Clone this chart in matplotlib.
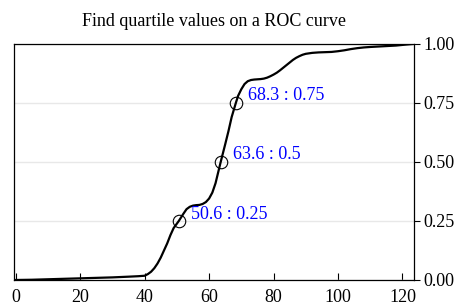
import matplotlib.pyplot as plt

# ROC curve
fpr = [0, 5, 10, 15, 20, 25, 30, 35, 38, 40, 41, 42, 43, 44, 45, 46, 47, 48, 49,
       50.6, 52, 53, 54, 55, 56, 57, 58, 59, 60, 61, 62, 63.6, 65, 66, 67, 68.3,
       69, 70, 71, 72, 73, 74, 75, 76, 77, 78, 79, 80, 81, 82, 83, 84, 85, 86,
       87, 88, 89, 90, 92, 94, 96, 98, 100, 102, 104, 106, 108, 110, 114, 118,
       121, 123.5]
tpr = [0, 0.001, 0.003, 0.005, 0.007, 0.009, 0.011, 0.014, 0.016, 0.018, 0.025,
       0.035, 0.05, 0.07, 0.095, 0.125, 0.155, 0.19, 0.22, 0.25, 0.28, 0.3,
       0.31, 0.315, 0.317, 0.318, 0.322, 0.33, 0.345, 0.37, 0.41, 0.5, 0.575,
       0.63, 0.69, 0.75, 0.78, 0.808, 0.83, 0.842, 0.847, 0.849, 0.85, 0.851,
       0.853, 0.857, 0.863, 0.87, 0.878, 0.888, 0.899, 0.91, 0.921, 0.932,
       0.941, 0.948, 0.954, 0.958, 0.962, 0.964, 0.965, 0.966, 0.969, 0.973,
       0.978, 0.982, 0.985, 0.987, 0.99, 0.993, 0.997, 1.0]

# quartile points
q_x = [50.6, 63.6, 68.3]
q_y = [0.25, 0.5, 0.75]
q_labels = ["50.6 : 0.25", "63.6 : 0.5", "68.3 : 0.75"]

plt.rcParams["font.family"] = ["Liberation Serif", "DejaVu Serif"]

fig = plt.figure(figsize=(4.56, 3.07), dpi=100)
ax = fig.add_axes([0.031, 0.088, 0.877, 0.769])

ax.grid(axis="y", color="#e8e8e8", linewidth=1)
ax.set_axisbelow(True)
ax.plot(fpr, tpr, color="black", linewidth=1.6)
ax.plot(q_x, q_y, "o", markerfacecolor="none", markeredgecolor="black",
        markersize=9, markeredgewidth=0.8)
for x, y, lab in zip(q_x, q_y, q_labels):
    ax.annotate(lab, (x, y), xytext=(8.5, 5), textcoords="offset points",
                va="center", ha="left", color="#0000ff", fontsize=13)

ax.set_xlim(-0.5, 123.6)
ax.set_ylim(0, 1)
ax.set_xticks([0, 20, 40, 60, 80, 100, 120])
ax.set_yticks([0, 0.25, 0.5, 0.75, 1.0])
ax.set_yticklabels(["0.00", "0.25", "0.50", "0.75", "1.00"])
ax.yaxis.tick_right()
ax.tick_params(axis="y", direction="out", length=4, labelsize=13, width=0.8, pad=3)
ax.tick_params(axis="x", direction="in", length=5, labelsize=13, width=0.8, pad=6.5)
for s in ax.spines.values():
    s.set_linewidth(0.9)

ax.set_title("Find quartile values on a ROC curve", fontsize=13, pad=13)

fig.savefig("out.png", dpi=100)
